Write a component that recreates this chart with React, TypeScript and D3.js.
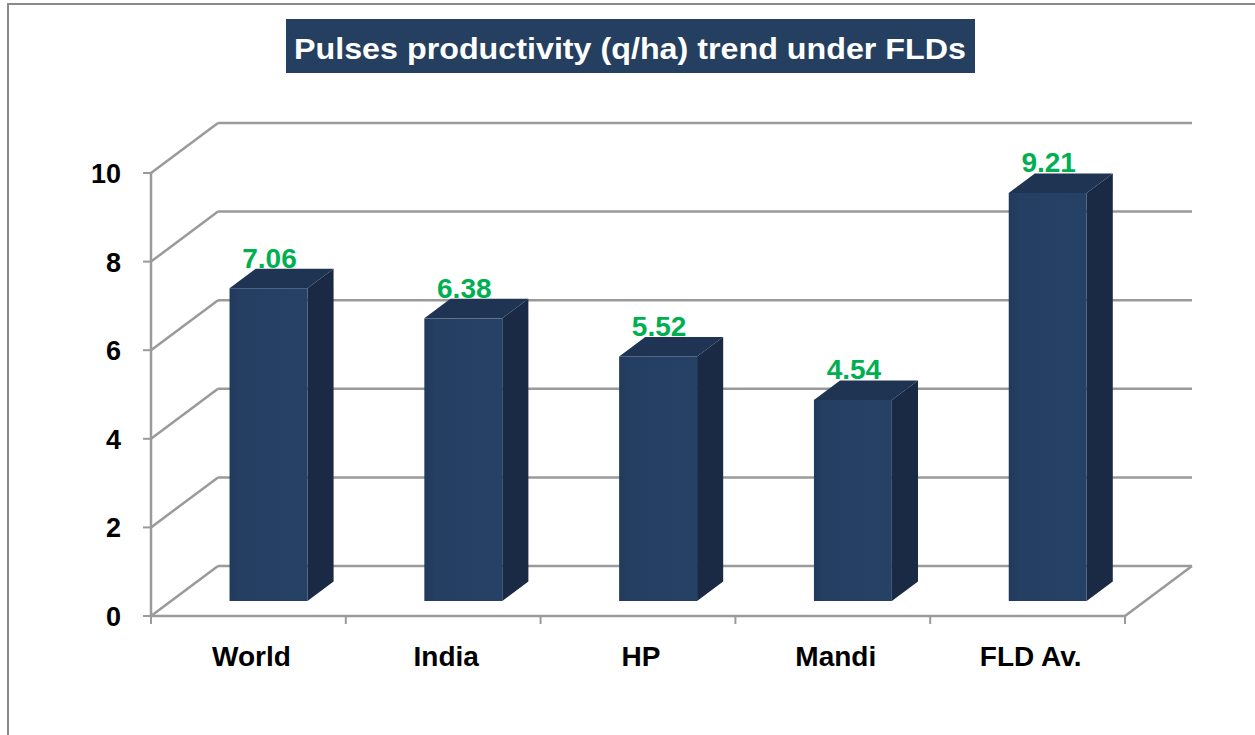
import React from "react";
import * as d3 from "d3";

const categories = ["World", "India", "HP", "Mandi", "FLD Av."];
const productivity = [7.06, 6.38, 5.52, 4.54, 9.21];
const yTicks = [0, 2, 4, 6, 8, 10];
const title = "Pulses productivity (q/ha) trend under FLDs";

const W = 1255;
const H = 735;
const DX = 67; // depth offset of the back wall
const DY = -50;
const FONT = "'Liberation Sans', Arial, sans-serif";

export default function App() {
  const x = d3.scaleBand<string>().domain(categories).range([151, 1125]);
  const y = d3.scaleLinear().domain([0, 10]).range([616, 173]);

  const grid = "#9a9a9a";
  const barW = x.bandwidth() * 0.4;
  const d0 = 0.3; // bar front depth fraction
  const dd = 0.39; // bar depth fraction

  return (
    <svg
      width={W}
      height={H}
      style={{ position: "absolute", left: 0, top: 0, background: "#fff" }}
    >
      <defs>
        <linearGradient id="front" x1="0" x2="1" y1="0" y2="0">
          <stop offset="0" stopColor="#213a5c" />
          <stop offset="0.15" stopColor="#253f63" />
          <stop offset="1" stopColor="#264166" />
        </linearGradient>
      </defs>

      {/* outer frame */}
      <rect x={8} y={4} width={W} height={H} fill="none" stroke="#8a8a8a" strokeWidth={2} />

      {/* side wall diagonals + back wall gridlines */}
      {yTicks.map((t) => (
        <g key={t}>
          <line x1={151} y1={y(t)} x2={151 + DX} y2={y(t) + DY} stroke={grid} strokeWidth={2.5} />
          <line x1={151 + DX} y1={y(t) + DY} x2={1125 + DX} y2={y(t) + DY} stroke={grid} strokeWidth={2.5} />
          <line x1={143} y1={y(t)} x2={151} y2={y(t)} stroke={grid} strokeWidth={2} />
          <text
            x={121}
            y={y(t) + 10}
            textAnchor="end"
            fontFamily={FONT}
            fontWeight="bold"
            fontSize={27}
            fill="#000"
          >
            {t}
          </text>
        </g>
      ))}

      {/* vertical axis */}
      <line x1={151} y1={y(0)} x2={151} y2={y(10)} stroke={grid} strokeWidth={2.5} />

      {/* floor */}
      <line x1={151} y1={y(0)} x2={1125} y2={y(0)} stroke={grid} strokeWidth={2.5} />
      <line x1={1125} y1={y(0)} x2={1125 + DX} y2={y(0) + DY} stroke={grid} strokeWidth={2.5} />
      {[...categories.map((c) => x(c) as number), 1125].map((v, i) => (
        <line key={i} x1={v} y1={y(0)} x2={v} y2={y(0) + 8} stroke={grid} strokeWidth={2} />
      ))}

      {/* bars */}
      {categories.map((c, i) => {
        const v = productivity[i];
        const cx = (x(c) as number) + x.bandwidth() / 2 + d0 * DX;
        const fx0 = cx - barW / 2;
        const fx1 = cx + barW / 2;
        const fBot = y(0) + d0 * DY;
        const fTop = y(v) + d0 * DY;
        const ox = dd * DX;
        const oy = dd * DY;
        return (
          <g key={c}>
            <path
              d={`M${fx1},${fBot}L${fx1 + ox},${fBot + oy}L${fx1 + ox},${fTop + oy}L${fx1},${fTop}Z`}
              fill="#1a2a44"
            />
            <path
              d={`M${fx0},${fTop}L${fx0 + ox},${fTop + oy}L${fx1 + ox},${fTop + oy}L${fx1},${fTop}Z`}
              fill="#1f3353"
            />
            <rect x={fx0} y={fTop} width={barW} height={fBot - fTop} fill="url(#front)" />
            <text
              x={cx + 1}
              y={fTop + oy - 1}
              textAnchor="middle"
              fontFamily={FONT}
              fontWeight="bold"
              fontSize={28}
              fill="#00b050"
            >
              {v.toFixed(2)}
            </text>
            <text
              x={(x(c) as number) + x.bandwidth() / 2 + 3}
              y={666}
              textAnchor="middle"
              fontFamily={FONT}
              fontWeight="bold"
              fontSize={28}
              fill="#000"
            >
              {c}
            </text>
          </g>
        );
      })}

      {/* title */}
      <rect x={286} y={19} width={689} height={54} fill="#243f60" />
      <text
        x={630}
        y={59}
        textAnchor="middle"
        fontFamily={FONT}
        fontWeight="bold"
        fontSize={29}
        fill="#fff"
        textLength={672}
        lengthAdjust="spacingAndGlyphs"
      >
        {title}
      </text>
    </svg>
  );
}
